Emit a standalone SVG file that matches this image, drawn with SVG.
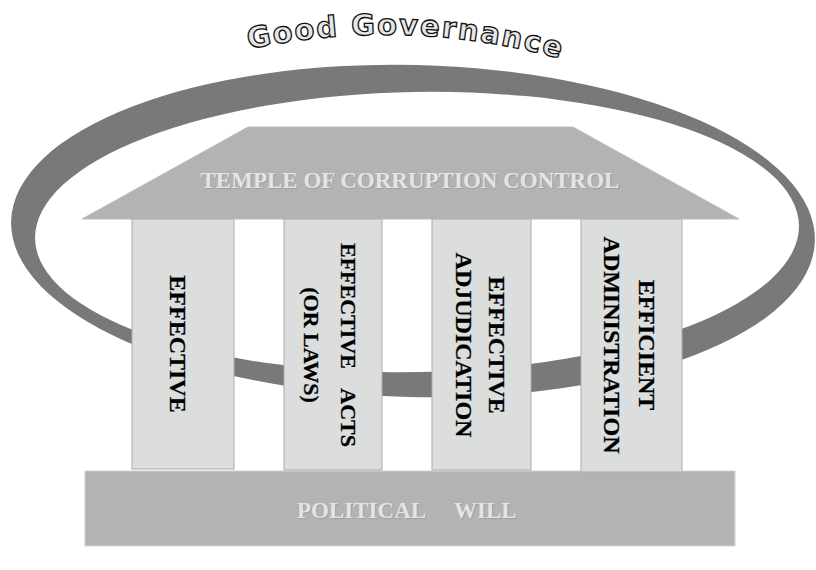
<svg xmlns="http://www.w3.org/2000/svg" xmlns:xlink="http://www.w3.org/1999/xlink" width="816" height="570" viewBox="0 0 816 570">
  <defs>
    <pattern id="hatch" patternUnits="userSpaceOnUse" width="5" height="5" patternTransform="rotate(40)">
      <rect width="5" height="5" fill="#787878"/>
      <line x1="0" y1="0" x2="0" y2="5" stroke="#7f7f7f" stroke-width="1"/>
    </pattern>
    <mask id="ringMask" maskUnits="userSpaceOnUse" x="0" y="0" width="816" height="570">
      <rect x="0" y="0" width="816" height="570" fill="#fff"/>
      <ellipse cx="417" cy="232" rx="382" ry="140" transform="rotate(-1 417 232)" fill="#000"/>
    </mask>
    <path id="arc" d="M 245 50 Q 405 15 565 60"/>
  </defs>
  <style>
    .pillar { fill: #dcdddd; stroke: #ababab; stroke-width: 1; }
    .ptxt { font-family: "Liberation Serif", "Times New Roman", serif; font-weight: bold; fill: #000; stroke: #000; stroke-width: 0.25; font-size: 24px; }
    .light { font-family: "Liberation Serif", "Times New Roman", serif; font-weight: bold; fill: #e4e4e4; font-size: 23px; }
    .shadow { font-family: "Liberation Serif", "Times New Roman", serif; font-weight: bold; fill: #a0a0a0; font-size: 23px; }
  </style>

  <g id="ring">
    <g mask="url(#ringMask)">
      <ellipse cx="413" cy="231" rx="402" ry="166" transform="rotate(1.4 413 231)" fill="url(#hatch)"/>
    </g>
  </g>

  <g id="title">
    <text font-family="'DejaVu Sans', Verdana, sans-serif" font-weight="bold" font-size="29" letter-spacing="1.8" fill="#e6e6e6" stroke="#111" stroke-width="1.3">
      <textPath xlink:href="#arc" href="#arc" startOffset="4">Good Governance</textPath>
    </text>
  </g>

  <g id="base">
    <rect x="85" y="471" width="650" height="75" fill="#b3b3b3" stroke="#d2d2d2" stroke-width="1"/>
    <text class="shadow" x="298" y="519">POLITICAL</text>
    <text class="shadow" x="455" y="519">WILL</text>
    <text class="light" x="297" y="518">POLITICAL</text>
    <text class="light" x="454" y="518">WILL</text>
  </g>

  <g id="roof">
    <polygon points="248,127 573,127 739,219 82,219" fill="#b3b3b3" stroke="#bcbcbc" stroke-width="1"/>
    <text class="shadow" x="411" y="189" text-anchor="middle">TEMPLE OF CORRUPTION CONTROL</text>
    <text class="light" x="410" y="188" text-anchor="middle">TEMPLE OF CORRUPTION CONTROL</text>
  </g>

  <g id="pillar1">
    <rect class="pillar" x="132" y="219" width="102" height="250"/>
    <text class="ptxt" transform="translate(170 344) rotate(90)" text-anchor="middle">EFFECTIVE</text>
  </g>

  <g id="pillar2">
    <rect class="pillar" x="284" y="219" width="98" height="251"/>
    <text class="ptxt" style="font-size:22px" transform="translate(341 243) rotate(90)">EFFECTIVE</text>
    <text class="ptxt" style="font-size:22px" transform="translate(341 447) rotate(90)" text-anchor="end">ACTS</text>
    <text class="ptxt" style="font-size:22px" transform="translate(304 345) rotate(90)" text-anchor="middle">(OR LAWS)</text>
  </g>

  <g id="pillar3">
    <rect class="pillar" x="432" y="219" width="99" height="251"/>
    <text class="ptxt" transform="translate(489 345) rotate(90)" text-anchor="middle">EFFECTIVE</text>
    <text class="ptxt" transform="translate(456 345) rotate(90)" text-anchor="middle">ADJUDICATION</text>
  </g>

  <g id="pillar4">
    <rect class="pillar" x="581" y="219" width="101" height="253"/>
    <text class="ptxt" transform="translate(639 345) rotate(90)" text-anchor="middle">EFFICIENT</text>
    <text class="ptxt" transform="translate(604 345) rotate(90)" text-anchor="middle">ADMINISTRATION</text>
  </g>

  <g id="connectors"/>
</svg>
